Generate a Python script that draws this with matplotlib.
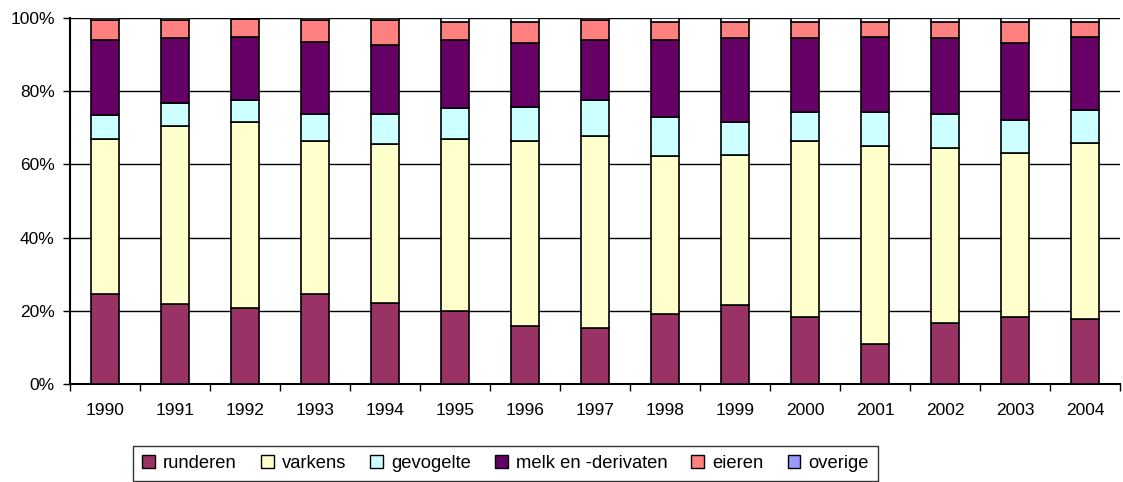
import numpy as np
import matplotlib.pyplot as plt
from matplotlib.patches import Patch
from matplotlib.ticker import PercentFormatter

years = [str(y) for y in range(1990, 2005)]

# percentages per category
runderen = [24.6, 21.8, 20.9, 24.5, 22.1, 19.9, 15.8, 15.3, 19.1, 21.6, 18.4, 10.9, 16.6, 18.4, 17.8]
varkens = [42.3, 48.8, 50.7, 41.9, 43.4, 47.0, 50.7, 52.5, 43.2, 41.1, 48.1, 54.2, 47.9, 44.7, 48.1]
gevogelte = [6.6, 6.1, 6.0, 7.5, 8.4, 8.4, 9.2, 9.9, 10.6, 8.8, 7.7, 9.2, 9.4, 8.9, 9.0]
melk = [20.5, 17.7, 17.3, 19.5, 18.6, 18.6, 17.4, 16.2, 21.0, 22.9, 20.2, 20.5, 20.5, 21.1, 19.9]
eieren = [5.5, 5.1, 4.7, 6.1, 6.9, 5.1, 5.9, 5.6, 5.1, 4.6, 4.6, 4.2, 4.6, 5.9, 4.2]
overige = [0.5, 0.5, 0.4, 0.5, 0.6, 1.0, 1.0, 0.5, 1.0, 1.0, 1.0, 1.0, 1.0, 1.0, 1.0]

names = ["runderen", "varkens", "gevogelte", "melk en -derivaten", "eieren", "overige"]
values = [runderen, varkens, gevogelte, melk, eieren, overige]
colors = ["#993366", "#FFFFCC", "#CCFFFF", "#660066", "#FF8080", "#9999FF"]
# the thin overige slice renders almost white in the original
fills = colors[:5] + ["#F4F4FF"]

plt.rcParams['font.family'] = ['Liberation Sans', 'DejaVu Sans']

fig = plt.figure(figsize=(11.23, 4.82), dpi=100)
ax = fig.add_axes([70 / 1123, 1 - 384 / 482, 1050 / 1123, 366 / 482])

x = np.arange(len(years))
bottom = np.zeros(len(years))
for name, vals, col in zip(names, values, fills):
    vals = np.array(vals)
    ax.bar(x, vals, 0.4, bottom=bottom, color=col, edgecolor="black",
           linewidth=1.2, zorder=3)
    bottom += vals

ax.set_xlim(-0.5, len(years) - 0.5)
ax.set_ylim(0, 100)
ax.set_yticks(range(0, 101, 20))
ax.yaxis.set_major_formatter(PercentFormatter(decimals=0))
ax.set_xticks(x)
ax.set_xticklabels(years)
ax.set_xticks(np.arange(-0.5, len(years), 1), minor=True)
ax.tick_params(axis="x", which="major", length=0, pad=14, labelsize=12.5)
ax.tick_params(axis="x", which="minor", length=5, width=1)
ax.tick_params(axis="y", length=5, width=1, labelsize=12.5, pad=6)
ax.yaxis.grid(True, color="black", linewidth=1, zorder=0)

for s in ["top", "right"]:
    ax.spines[s].set_visible(False)
ax.spines["left"].set_linewidth(1.5)
ax.spines["bottom"].set_linewidth(1.5)

handles = [Patch(facecolor=c, edgecolor="black", linewidth=1) for c in colors]
leg = fig.legend(handles, names, loc="upper left",
                 bbox_to_anchor=(133 / 1123, 1 - 446 / 482), ncol=6,
                 fontsize=13.2, frameon=True, fancybox=False, edgecolor="black",
                 handlelength=0.7, handleheight=0.7, handletextpad=0.45,
                 columnspacing=1.3, borderpad=0.5, borderaxespad=0)
leg.get_frame().set_linewidth(1)

fig.savefig("out.png", dpi=100)
